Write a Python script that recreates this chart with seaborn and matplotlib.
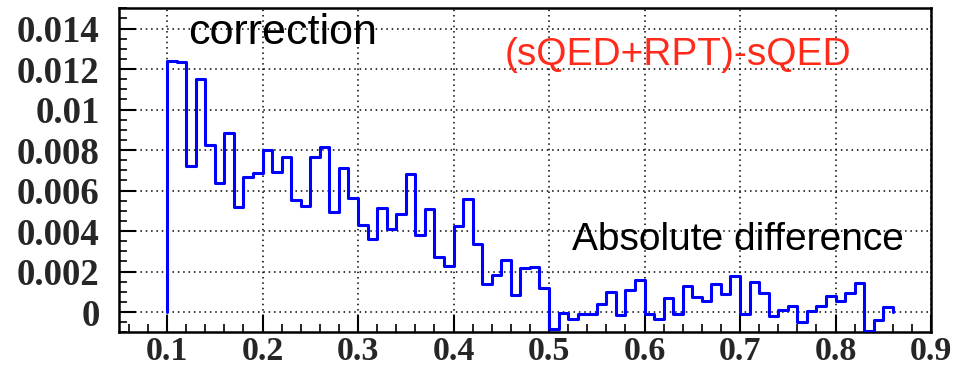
import numpy as np
import pandas as pd
import matplotlib
matplotlib.use("Agg")
import matplotlib.pyplot as plt
import seaborn as sns
from matplotlib.ticker import MultipleLocator, FixedLocator

# ---- data ----
bin_start = 0.10
bin_width = 0.01
values = [
    0.01240, 0.01234, 0.00723, 0.01152, 0.00824, 0.00638, 0.00885, 0.00519, 0.00666, 0.00687,
    0.00801, 0.00690, 0.00764, 0.00555, 0.00526, 0.00764, 0.00816, 0.00494, 0.00712, 0.00565,
    0.00432, 0.00361, 0.00516, 0.00409, 0.00486, 0.00684, 0.00379, 0.00511, 0.00272, 0.00226,
    0.00423, 0.00558, 0.00338, 0.00140, 0.00181, 0.00259, 0.00086, 0.00217, 0.00222, 0.00120,
    -0.00082, -0.00003, -0.00036, -0.00012, -0.00008, 0.00041, 0.00099, -0.00016, 0.00107, 0.00160,
    -0.00008, -0.00036, 0.00069, -0.00012, 0.00127, 0.00074, 0.00054, 0.00140, 0.00087, 0.00178,
    -0.00008, 0.00148, 0.00094, -0.00020, 0.00012, 0.00031, -0.00049, 0.00005, 0.00031, 0.00079,
    0.00054, 0.00094, 0.00145, -0.00096, -0.00041, 0.00025,
]
x_ticks = [0.1, 0.2, 0.3, 0.4, 0.5, 0.6, 0.7, 0.8, 0.9]
x_tick_labels = ["0.1", "0.2", "0.3", "0.4", "0.5", "0.6", "0.7", "0.8", "0.9"]
y_ticks = [0, 0.002, 0.004, 0.006, 0.008, 0.01, 0.012, 0.014]
y_tick_labels = ["0", "0.002", "0.004", "0.006", "0.008", "0.01", "0.012", "0.014"]
label_correction = "correction"
label_diff = "(sQED+RPT)-sQED"
label_abs = "Absolute difference"

# ---- build step outline from the data ----
n = len(values)
edges = bin_start + bin_width * np.arange(n + 1)
xs = np.concatenate([[edges[0]], edges, [edges[-1]]])
ys = np.concatenate([[0.0], values, [values[-1]], [0.0]])
df = pd.DataFrame({"x": xs, "y": ys})

sns.set_style("ticks")
plt.rcParams["font.family"] = ["Liberation Sans", "DejaVu Sans"]

fig = plt.figure(figsize=(9.58, 3.75), dpi=100)
ax = fig.add_axes([119.3 / 958, 1 - 332.3 / 375, (931 - 119.3) / 958, (332.3 - 8.3) / 375])

sns.lineplot(data=df, x="x", y="y", ax=ax, sort=False, estimator=None,
             color="#0000ff", linewidth=2.2, drawstyle="steps-post", zorder=3)

ax.set_xlim(0.05, 0.9)
ax.set_ylim(-0.001, 0.015)
ax.set_xlabel("")
ax.set_ylabel("")

ax.xaxis.set_major_locator(FixedLocator(x_ticks))
ax.set_xticklabels(x_tick_labels)
ax.xaxis.set_minor_locator(MultipleLocator(0.02))
ax.yaxis.set_major_locator(FixedLocator(y_ticks))
ax.set_yticklabels(y_tick_labels)
ax.yaxis.set_minor_locator(MultipleLocator(0.0005))

for lab in ax.get_xticklabels():
    lab.set_fontfamily(["Liberation Serif", "DejaVu Serif"])
    lab.set_fontweight("bold")
    lab.set_fontsize(24.5)
for lab in ax.get_yticklabels():
    lab.set_fontfamily(["Liberation Serif", "DejaVu Serif"])
    lab.set_fontweight("bold")
    lab.set_fontsize(26.5)

ax.tick_params(axis="both", which="major", direction="in", length=12, width=1.5,
               color="black", top=False, right=False)
ax.tick_params(axis="both", which="minor", direction="in", length=6, width=1.2,
               color="black", top=False, right=False)
ax.tick_params(axis="x", which="major", pad=3)
ax.tick_params(axis="y", which="major", pad=14)

ax.grid(True, which="major", color="black", linestyle=(0, (1, 2.5)), linewidth=1.1, zorder=1)
ax.set_axisbelow(True)
for s in ax.spines.values():
    s.set_visible(True)
    s.set_color("black")
    s.set_linewidth(1.8)

ax.text(0.1219, 0.01322, label_correction, fontsize=31, color="black",
        va="baseline", ha="left", zorder=4)
ax.text(0.4535, 0.01218, label_diff, fontsize=28, color="#ff2a1a",
        va="baseline", ha="left", zorder=4)
ax.text(0.5236, 0.00305, label_abs, fontsize=28, color="black",
        va="baseline", ha="left", zorder=4)

fig.savefig("out.png", dpi=100, facecolor="white")
